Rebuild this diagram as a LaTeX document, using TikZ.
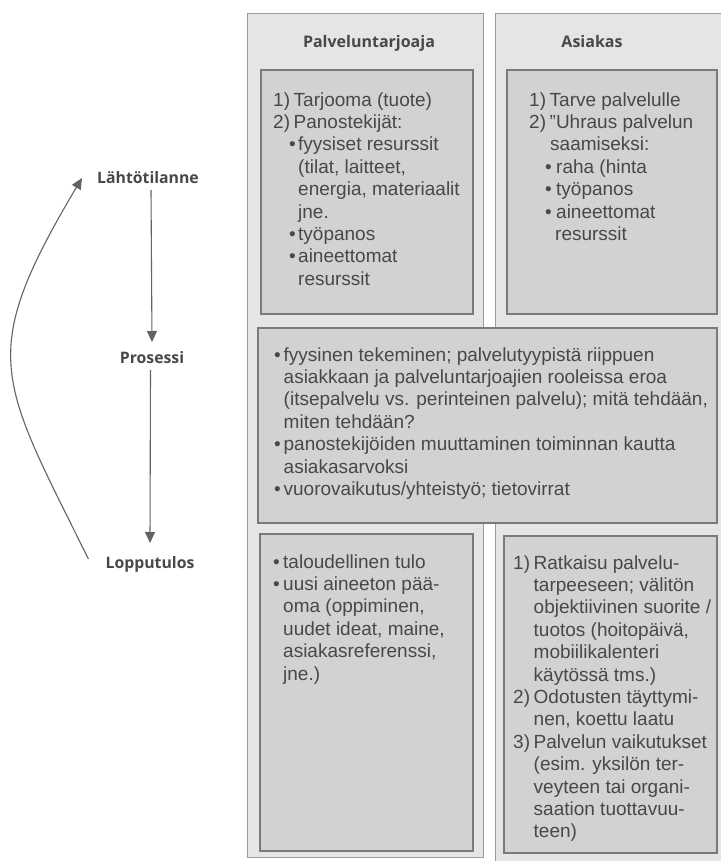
\documentclass[tikz,border=0pt]{standalone}
\usepackage{fontspec}
\setmainfont{Liberation Sans}
\newfontfamily\headfont{Open Sans}
\usetikzlibrary{arrows.meta}

\definecolor{columngray}{HTML}{E5E5E7}
\definecolor{boxgray}{HTML}{D2D2D5}
\definecolor{edgegray}{HTML}{7A7A7C}
\definecolor{inkgray}{HTML}{48484A}

% Item labels and hanging indents
\newcommand{\nr}[1]{\makebox[20.5pt][l]{#1}}
\newcommand{\hang}[1]{\hspace*{#1}}
\newcommand{\blt}[2]{\hspace*{#1}\makebox[#2][l]{\textbullet}}

\tikzset{
    colbox/.style={draw=edgegray!75, line width=1pt},
    innerbox/.style={fill=boxgray, draw=edgegray, line width=1.2pt},
    % base anchor = baseline of the last line
    boxtext/.style={anchor=base west, align=left, inner sep=0pt, text=inkgray,
        font=\fontsize{19}{22.4}\selectfont},
    coltitle/.style={anchor=base, inner sep=0pt, text=inkgray,
        font=\headfont\bfseries\fontsize{16}{19}\selectfont},
    phase/.style={anchor=base, inner sep=0pt, text=inkgray,
        font=\headfont\bfseries\fontsize{15.8}{18}\selectfont},
    flow/.style={draw=inkgray!85, line width=1.1pt, -{Triangle[width=10pt,length=11pt]}},
}

\begin{document}
\begin{tikzpicture}[x=1pt, y=-1pt]
    \useasboundingbox[fill=white] (0,0) rectangle (721,861);

    % Column backgrounds
    \fill[columngray] (247,14) rectangle (483,857);
    \draw[colbox] (247,14) rectangle (483,857);
    \fill[columngray] (495,14) rectangle (721,861);
    \draw[colbox] (721,14) -- (495,14) -- (495,861);

    % Column titles
    \node[coltitle] (provider) at (369,48) {Palveluntarjoaja};
    \node[coltitle] (customer) at (592,48) {Asiakas};

    % Grey panels
    \foreach \xa/\ya/\xb/\yb in {261/70/473/314, 507/70/717/314, 258/328/717/523,
            260/534/473/851, 504/536/717/853}
        \draw[innerbox] (\xa,\ya) rectangle (\xb,\yb);

    % Starting point
    \node[boxtext] (provstart) at (273,285.2) {\nr{1)}Tarjooma (tuote)\\
        \nr{2)}Panostekijät:\\
        \blt{16pt}{9pt}fyysiset resurssit\\
        \hang{25pt}(tilat, laitteet,\\
        \hang{25pt}energia, materiaalit\\
        \hang{25pt}jne.\\
        \blt{16pt}{9pt}työpanos\\
        \blt{16pt}{9pt}aineettomat\\
        \hang{25pt}resurssit};
    \node[boxtext] (custstart) at (529,240.4) {\nr{1)}Tarve palvelulle\\
        \nr{2)}”Uhraus palvelun\\
        \hang{21pt}saamiseksi:\\
        \blt{16pt}{11pt}raha (hinta\\
        \blt{16pt}{11pt}työpanos\\
        \blt{16pt}{11pt}aineettomat\\
        \hang{26pt}resurssit};

    % Process
    \node[boxtext] (process) at (274,495.4) {\blt{0pt}{9.5pt}fyysinen tekeminen; palvelutyypistä riippuen\\
        \hang{9.5pt}asiakkaan ja palveluntarjoajien rooleissa eroa\\
        \hang{9.5pt}(itsepalvelu vs. perinteinen palvelu); mitä tehdään,\\
        \hang{9.5pt}miten tehdään?\\
        \blt{0pt}{9.5pt}panostekijöiden muuttaminen toiminnan kautta\\
        \hang{9.5pt}asiakasarvoksi\\
        \blt{0pt}{9.5pt}vuorovaikutus/yhteistyö; tietovirrat};

    % Outcome
    \node[boxtext] (provend) at (273,680) {\blt{0pt}{10pt}taloudellinen tulo\\
        \blt{0pt}{10pt}uusi aineeton pää-\\
        \hang{10pt}oma (oppiminen,\\
        \hang{10pt}uudet ideat, maine,\\
        \hang{10pt}asiakasreferenssi,\\
        \hang{10pt}jne.)};
    \node[boxtext] (custend) at (513,837.8) {\nr{1)}Ratkaisu palvelu-\\
        \hang{20.5pt}tarpeeseen; välitön\\
        \hang{20.5pt}objektiivinen suorite /\\
        \hang{20.5pt}tuotos (hoitopäivä,\\
        \hang{20.5pt}mobiilikalenteri\\
        \hang{20.5pt}käytössä tms.)\\
        \nr{2)}Odotusten täyttymi-\\
        \hang{20.5pt}nen, koettu laatu\\
        \nr{3)}Palvelun vaikutukset\\
        \hang{20.5pt}(esim. yksilön ter-\\
        \hang{20.5pt}veyteen tai organi-\\
        \hang{20.5pt}saation tuottavuu-\\
        \hang{20.5pt}teen)};

    % Phases on the left
    \node[phase] (start) at (148,183) {Lähtötilanne};
    \node[phase] (proc) at (152,363) {Prosessi};
    \node[phase] (end) at (150,568) {Lopputulos};
    \draw[flow] ([xshift=3pt,yshift=-7pt]start.base) -- ([yshift=21pt]proc.base);
    \draw[flow] ([xshift=-1.5pt,yshift=-7pt]proc.base) -- ([yshift=25pt]end.base);
    \draw[flow] ([shift={(-17,-9)}]end.base west) .. controls (-1,378) and (-24,356) .. ([shift={(-15,-5)}]start.base west);
\end{tikzpicture}
\end{document}
